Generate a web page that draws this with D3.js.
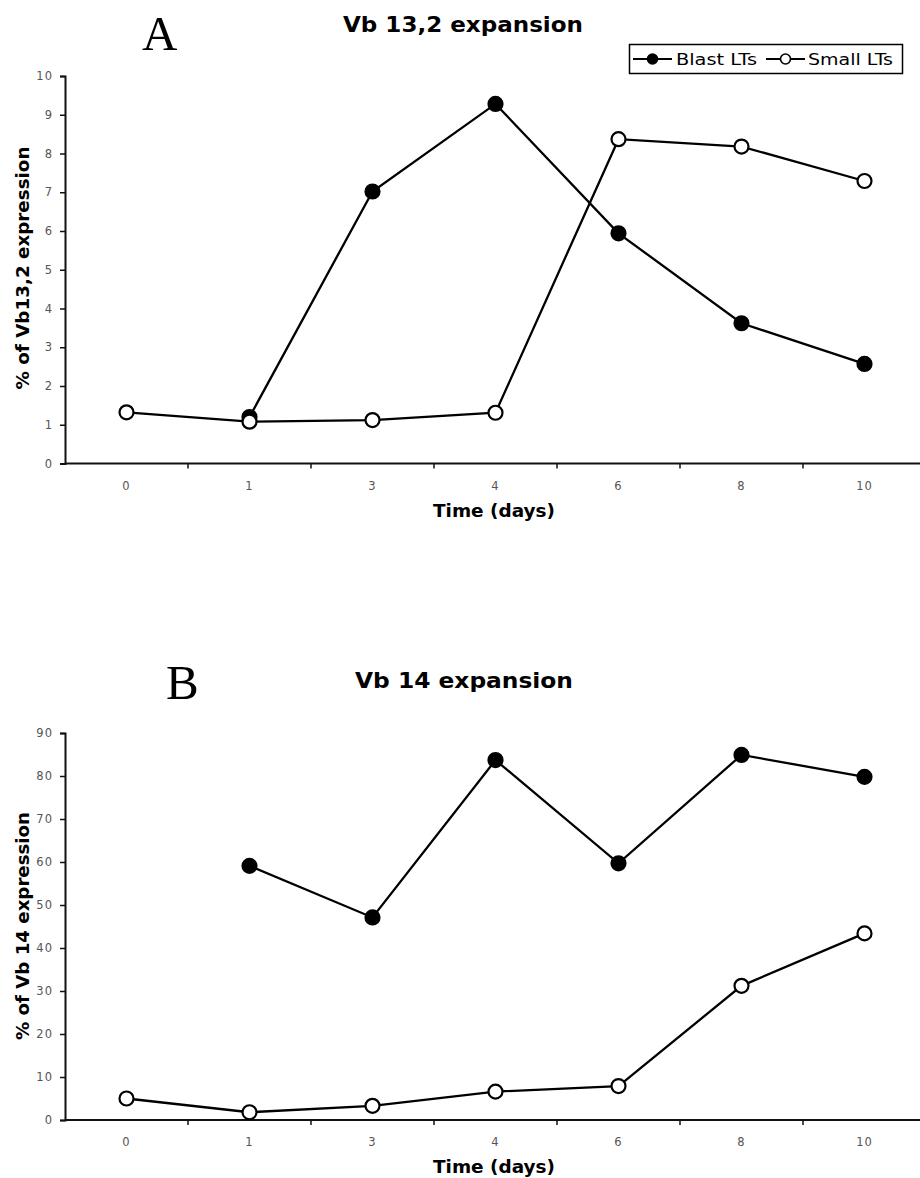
<!DOCTYPE html>
<html>
<head>
<meta charset="utf-8">
<script src="https://cdn.jsdelivr.net/npm/d3@7"></script>
<style>
  body { margin: 0; background: #fff; }
  svg { display: block; }
</style>
</head>
<body>
<script>
// days on the x axis (categories)
var days = ["0", "1", "3", "4", "6", "8", "10"];

// panel A: Vb 13,2
var blastA = [null, 1.2, 7.02, 9.28, 5.94, 3.62, 2.57];
var smallA = [1.32, 1.08, 1.12, 1.31, 8.37, 8.18, 7.29];
var ticksA = [0, 1, 2, 3, 4, 5, 6, 7, 8, 9, 10];

// panel B: Vb 14
var blastB = [null, 59.1, 47.1, 83.7, 59.7, 84.9, 79.8];
var smallB = [5.0, 1.8, 3.3, 6.6, 7.9, 31.2, 43.4];
var ticksB = [0, 10, 20, 30, 40, 50, 60, 70, 80, 90];

var width = 920, height = 1178;

var svg = d3.select("body").append("svg")
    .attr("width", width)
    .attr("height", height);

function drawPanel(opt) {
    var g = svg.append("g");

    var x = d3.scaleBand().domain(days).range([65, 926]).padding(0);
    var y = d3.scaleLinear().domain([0, opt.max]).range([opt.bottom, opt.top]);

    // y axis
    var yAxis = g.append("g")
        .attr("transform", "translate(65,0)")
        .call(d3.axisLeft(y).tickValues(opt.ticks).tickSize(5).tickPadding(7));
    yAxis.select(".domain").attr("stroke", "#111").attr("stroke-width", 2);
    yAxis.selectAll(".tick line").attr("stroke", "#111").attr("stroke-width", 1.5);
    yAxis.selectAll("text")
        .style("font-family", "DejaVu Sans")
        .style("font-size", "11.5px")
        .style("letter-spacing", "1px")
        .attr("fill", "#555");

    // x axis: line plus ticks between categories
    g.append("line")
        .attr("x1", 65).attr("x2", width)
        .attr("y1", opt.bottom).attr("y2", opt.bottom)
        .attr("stroke", "#111").attr("stroke-width", 2);
    g.selectAll(".xtick")
        .data(days.slice(1))
        .enter().append("line")
        .attr("x1", function(d) { return x(d); })
        .attr("x2", function(d) { return x(d); })
        .attr("y1", opt.bottom).attr("y2", opt.bottom + 5)
        .attr("stroke", "#111").attr("stroke-width", 1.5);
    g.selectAll(".xlabel")
        .data(days)
        .enter().append("text")
        .attr("x", function(d) { return x(d) + x.bandwidth() / 2; })
        .attr("y", opt.bottom + 26)
        .attr("text-anchor", "middle")
        .style("font-family", "DejaVu Sans")
        .style("font-size", "11.5px")
        .style("letter-spacing", "1px")
        .attr("fill", "#555")
        .text(function(d) { return d; });

    var cx = function(i) { return x(days[i]) + x.bandwidth() / 2; };

    var line = d3.line()
        .defined(function(d) { return d != null; })
        .x(function(d, i) { return cx(i); })
        .y(function(d) { return y(d); });

    [[opt.blast, "#000"], [opt.small, "#fff"]].forEach(function(s) {
        g.append("path")
            .datum(s[0])
            .attr("d", line)
            .attr("fill", "none")
            .attr("stroke", "#000")
            .attr("stroke-width", 2.3);
        g.selectAll(null)
            .data(s[0].map(function(v, i) { return {v: v, i: i}; }).filter(function(d) { return d.v != null; }))
            .enter().append("circle")
            .attr("cx", function(d) { return cx(d.i); })
            .attr("cy", function(d) { return y(d.v); })
            .attr("r", 7)
            .attr("fill", s[1])
            .attr("stroke", "#000")
            .attr("stroke-width", 2.2);
    });

    // panel letter
    g.append("text")
        .attr("x", opt.letterX).attr("y", opt.letterY)
        .style("font-family", "Liberation Serif")
        .style("font-size", "49px")
        .text(opt.letter);

    // title
    g.append("text")
        .attr("x", opt.titleX).attr("y", opt.titleY)
        .attr("textLength", opt.titleW)
        .attr("lengthAdjust", "spacingAndGlyphs")
        .style("font-family", "DejaVu Sans")
        .style("font-weight", "bold")
        .style("font-size", "21px")
        .text(opt.title);

    // axis labels
    g.append("text")
        .attr("x", 433).attr("y", opt.bottom + 53)
        .attr("textLength", 122)
        .attr("lengthAdjust", "spacingAndGlyphs")
        .style("font-family", "DejaVu Sans")
        .style("font-weight", "bold")
        .style("font-size", "18px")
        .text("Time (days)");
    g.append("text")
        .attr("transform", "translate(29," + (opt.ylabelY + opt.ylabelW / 2) + ") rotate(-90)")
        .attr("textLength", opt.ylabelW)
        .attr("lengthAdjust", "spacingAndGlyphs")
        .style("font-family", "DejaVu Sans")
        .style("font-weight", "bold")
        .style("font-size", "17px")
        .text(opt.ylabel);
}

drawPanel({
    blast: blastA, small: smallA, ticks: ticksA, max: 10,
    top: 76, bottom: 463.5,
    letter: "A", letterX: 142, letterY: 50,
    title: "Vb 13,2 expansion", titleX: 343, titleY: 32, titleW: 240,
    ylabel: "% of Vb13,2 expression", ylabelY: 268, ylabelW: 243
});

drawPanel({
    blast: blastB, small: smallB, ticks: ticksB, max: 90,
    top: 733, bottom: 1120,
    letter: "B", letterX: 166, letterY: 699,
    title: "Vb 14 expansion", titleX: 355, titleY: 688, titleW: 218,
    ylabel: "% of Vb 14 expression", ylabelY: 926, ylabelW: 228
});

// legend (top panel only)
var legend = svg.append("g");
legend.append("rect")
    .attr("x", 629.5).attr("y", 44.5)
    .attr("width", 273).attr("height", 29)
    .attr("fill", "#fff").attr("stroke", "#000").attr("stroke-width", 1.5);

var legendItems = [
    {label: "Blast LTs", fill: "#000", x0: 633, x1: 672, tx: 676, tw: 81},
    {label: "Small LTs", fill: "#fff", x0: 766, x1: 805, tx: 808, tw: 85}
];
legendItems.forEach(function(d) {
    legend.append("line")
        .attr("x1", d.x0).attr("x2", d.x1)
        .attr("y1", 59).attr("y2", 59)
        .attr("stroke", "#000").attr("stroke-width", 1.8);
    legend.append("circle")
        .attr("cx", (d.x0 + d.x1) / 2).attr("cy", 59).attr("r", 5)
        .attr("fill", d.fill).attr("stroke", "#000").attr("stroke-width", 1.6);
    legend.append("text")
        .attr("x", d.tx).attr("y", 65)
        .attr("textLength", d.tw)
        .attr("lengthAdjust", "spacingAndGlyphs")
        .style("font-family", "DejaVu Sans")
        .style("font-size", "16px")
        .text(d.label);
});
</script>
</body>
</html>
